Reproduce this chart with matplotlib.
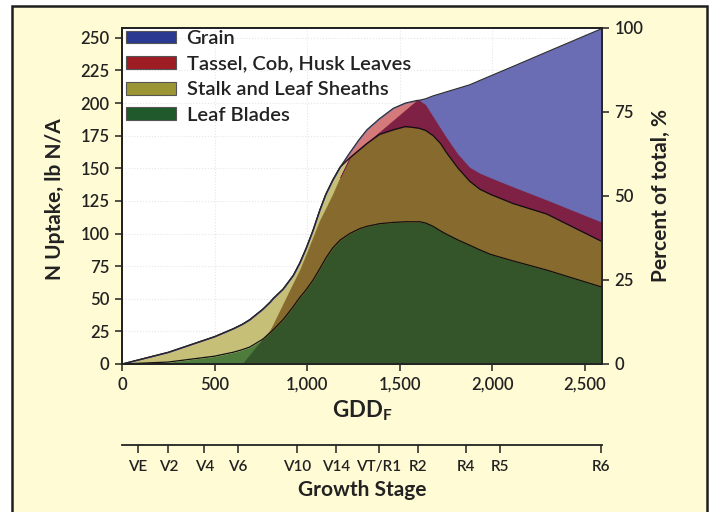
import numpy as np
import matplotlib
matplotlib.use("Agg")
import matplotlib.pyplot as plt
from matplotlib.patches import Rectangle

# ---------------- data ----------------
gdd = [0, 250, 500, 600, 650, 690, 760, 800, 815, 870, 925, 960, 995, 1030, 1068,
       1100, 1138, 1178, 1230, 1280, 1322, 1390, 1465, 1530, 1592, 1608, 1640,
       1680, 1720, 1752, 1815, 1878, 1932, 1990, 2112, 2293, 2590]
leaf = [0, 1.5, 6, 9, 11, 13, 19, 24, 26, 34, 44, 51, 57, 64, 73,
        81, 89, 95, 100, 103.5, 105.5, 107.5, 108.5, 109, 109, 109, 108,
        105.5, 102, 99.5, 95, 91, 87.5, 84, 79, 72, 59]
stalk = [0, 7.5, 15, 18, 19.5, 21, 23, 23.5, 24, 23.5, 24, 26.5, 32, 38, 45,
         49, 52, 56, 58, 60.5, 63.5, 68.5, 71, 73, 72, 71.5, 71,
         69.5, 67, 62.5, 55, 49, 46.5, 46, 44, 43, 35]
tassel = [0, 0, 0, 0, 0, 0, 0, 0, 0, 0, 0, 0, 0, 0, 0,
          0, 0, 0, 4, 8, 10.5, 12, 16.5, 18, 21, 21.7, 20,
          15, 12, 12, 11, 11, 12.5, 13, 13, 11, 15]
grain = [0, 0, 0, 0, 0, 0, 0, 0, 0, 0, 0, 0, 0, 0, 0,
         0, 0, 0, 0, 0, 0, 0, 0, 0, 0, 0, 4.3,
         15.5, 26.2, 34.6, 50.3, 63, 70.8, 77.8, 92.1, 113.1, 148]
# upper envelope of the second (lagging) overlay layer, lb N/A
overlay_top = [0, 0, 0, 0, 0, 7, 19, 26, 30, 46, 62, 72, 84, 96.5, 110,
               119, 130, 143, 158.5, 164.5, 169.5, 177.7, 186.7, 194.5, 202, 202.2, 203.3,
               205.5, 207.2, 208.6, 211.3, 214, 217.3, 220.8, 228.1, 239.1, 257]

series_names = ["Leaf Blades", "Stalk and Leaf Sheaths", "Tassel, Cob, Husk Leaves", "Grain"]
legend_colors = ["#1e5a2b", "#9b9633", "#9e1c24", "#2b3990"]
light_colors = ["#4e7c3c", "#c5bf78", "#d47a7b", "#6a6db4"]
dark_colors = ["#34542a", "#876a2d", "#7e2145", "#6a6db4"]

left_ticks = [0, 25, 50, 75, 100, 125, 150, 175, 200, 225, 250]
right_ticks = [0, 25, 50, 75, 100]
x_ticks = [0, 500, 1000, 1500, 2000, 2500]
x_ticklabels = ["0", "500", "1,000", "1,500", "2,000", "2,500"]
stage_pos = [84, 251, 444, 624, 945, 1154, 1386, 1597, 1857, 2041, 2586]
stage_labels = ["VE", "V2", "V4", "V6", "V10", "V14", "VT/R1", "R2", "R4", "R5", "R6"]

XMAX = 2592
YMAX = 257.5

FONT = ["Lato", "DejaVu Sans"]
plt.rcParams["font.family"] = FONT

W, H = 709, 512
fig = plt.figure(figsize=(W / 100, H / 100), dpi=100)
fig.patch.set_facecolor("white")

# page panel with frame
fig.add_artist(Rectangle((12 / W, -0.05), (707 - 12) / W, 1 - 6 / H + 0.05,
                         transform=fig.transFigure, facecolor="#fffbd4",
                         edgecolor="#1e1e1e", linewidth=1.8, zorder=0))

ax = fig.add_axes([122 / W, 148 / H, 480 / W, 336 / H])
ax.set_facecolor("white")
ax.set_xlim(0, XMAX)
ax.set_ylim(0, YMAX)

x = np.array(gdd, dtype=float)
comps = [np.array(s, dtype=float) for s in (leaf, stalk, tassel, grain)]
cum = np.cumsum(np.vstack(comps), axis=0)
env = np.array(overlay_top, dtype=float)

# single layer (lighter) areas
lo = np.zeros_like(x)
for i in range(4):
    ax.fill_between(x, lo, cum[i], facecolor=light_colors[i], edgecolor=light_colors[i],
                    linewidth=0.4, zorder=2)
    lo = cum[i]
# overlap (darker) areas, below the overlay envelope
lo = np.zeros_like(x)
for i in range(4):
    hi = np.minimum(cum[i], env)
    ax.fill_between(x, lo, hi, where=hi > lo, interpolate=True,
                    facecolor=dark_colors[i], edgecolor=dark_colors[i],
                    linewidth=0.4, zorder=3)
    lo = hi

ax.plot(x, cum[0], color="#111111", lw=0.9, zorder=5)
ax.plot(x, cum[1], color="#111111", lw=0.9, zorder=5)
ax.plot(x, cum[3], color="#2a2a2a", lw=0.8, zorder=5)

ax.set_yticks(left_ticks)
ax.set_yticklabels([str(t) for t in left_ticks])
ax.set_xticks(x_ticks)
ax.set_xticklabels(x_ticklabels)
ax.grid(True, color="#e6e6e6", linestyle=":", linewidth=0.8, zorder=1)
ax.set_axisbelow(True)
for s in ax.spines.values():
    s.set_color("#222222")
    s.set_linewidth(1.3)
ax.tick_params(axis="both", direction="out", length=5, width=1.1, color="#222222",
               labelsize=12, labelcolor="#222222", pad=4)
for lab in ax.get_xticklabels() + ax.get_yticklabels():
    lab.set_fontweight("semibold")

ax2 = ax.twinx()
ax2.set_ylim(0, 100)
ax2.set_yticks(right_ticks)
ax2.set_yticklabels([str(t) for t in right_ticks])
ax2.tick_params(axis="y", direction="out", length=5, width=1.1, color="#222222",
                labelsize=12, labelcolor="#222222", pad=4)
for lab in ax2.get_yticklabels():
    lab.set_fontweight("semibold")
for s in ax2.spines.values():
    s.set_color("#222222")
    s.set_linewidth(1.3)

# legend
handles = [Rectangle((0, 0), 1, 1, facecolor=legend_colors[i], edgecolor="#555555", linewidth=0.8)
           for i in (3, 2, 1, 0)]
labels = [series_names[i] for i in (3, 2, 1, 0)]
leg = ax.legend(handles, labels, loc="upper left", bbox_to_anchor=(-0.004, 1.012),
                frameon=False, handlelength=2.5, handleheight=0.6,
                labelspacing=0.43, handletextpad=0.5, borderaxespad=0.1, borderpad=0.2,
                prop={"family": FONT, "weight": "semibold", "size": 14.5})
for t in leg.get_texts():
    t.set_color("#222222")
leg.set_zorder(10)

# growth stage axis
ax3 = fig.add_axes([122 / W, (H - 445) / H, 480 / W, 0.0001])
ax3.set_xlim(0, XMAX)
ax3.patch.set_visible(False)
for k in ("left", "right", "top"):
    ax3.spines[k].set_visible(False)
ax3.spines["bottom"].set_color("#222222")
ax3.spines["bottom"].set_linewidth(1.3)
ax3.set_yticks([])
ax3.set_xticks(stage_pos)
ax3.set_xticklabels(stage_labels)
ax3.tick_params(axis="x", direction="out", length=6, width=1.1, color="#222222",
                labelsize=11, labelcolor="#222222", pad=5)
for lab in ax3.get_xticklabels():
    lab.set_fontweight("semibold")

# axis titles
fig.text(55 / W, 1 - 199 / H, "N Uptake, lb N/A", rotation=90, ha="center", va="center",
         fontsize=15, fontweight="bold", color="#222222")
fig.text(661 / W, 1 - 196 / H, "Percent of total, %", rotation=90, ha="center", va="center",
         fontsize=15, fontweight="bold", color="#222222")
fig.text(362 / W, 1 - 411 / H, r"GDD$_\mathregular{F}$", ha="center", va="center",
         fontsize=16, fontweight="bold", color="#222222")
fig.text(362 / W, 1 - 490 / H, "Growth Stage", ha="center", va="center",
         fontsize=15, fontweight="bold", color="#222222")

fig.savefig("out.png", dpi=100, facecolor=fig.get_facecolor())
